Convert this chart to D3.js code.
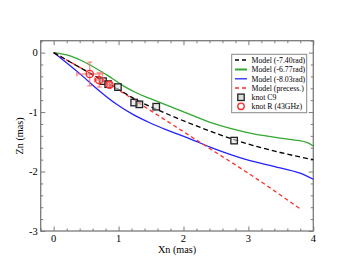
<!DOCTYPE html>
<html><head><meta charset="utf-8">
<script src="https://cdn.jsdelivr.net/npm/d3@7"></script>
<style>html,body{margin:0;padding:0;background:#fff;}svg{display:block;}</style>
</head><body>
<svg id="chart" width="353" height="273"></svg>
<script>
// ---- data ----
const xTicks = [0, 1, 2, 3, 4];
const yTicks = [0, -1, -2, -3];
const greenX = [0, 0.2, 0.45, 0.81, 1.12, 1.28, 1.48, 1.8, 2.1, 2.46, 2.97, 3.49, 3.9, 4.0];
const greenY = [0, -0.04, -0.145, -0.37, -0.59, -0.68, -0.77, -0.91, -1.04, -1.19, -1.34, -1.44, -1.51, -1.57];
const blueX = [0, 0.45, 0.71, 0.97, 1.22, 1.48, 1.79, 2.1, 2.46, 2.97, 3.49, 3.87, 4.0];
const blueY = [0, -0.40, -0.65, -0.87, -1.04, -1.18, -1.32, -1.45, -1.61, -1.80, -1.94, -2.06, -2.13];
const blackX = [0, 0.5, 1.0, 1.3, 1.64, 1.94, 2.46, 2.77, 3.2, 3.49, 4.0];
const blackY = [0, -0.31, -0.62, -0.81, -0.98, -1.12, -1.34, -1.46, -1.60, -1.68, -1.80];
const redX = [0, 0.5, 1.0, 1.5, 2.0, 2.5, 3.0, 3.5, 3.8];
const redY = [0, -0.31, -0.63, -0.98, -1.33, -1.68, -2.03, -2.40, -2.63];
const c9X = [0.76, 0.84, 0.99, 1.24, 1.32, 1.58, 2.78];
const c9Y = [-0.48, -0.53, -0.58, -0.84, -0.87, -0.91, -1.48];
const rX = [0.556, 0.70, 0.86];
const rY = [-0.36, -0.46, -0.54];
const rXerr = [0.2, 0.07, 0.03];
const rYerr = [0.2, 0.12, 0.04];
const legendLabels = ["Model (-7.40rad)", "Model (-6.77rad)", "Model (-8.03rad)", "Model (precess.)", "knot C9", "knot R (43GHz)"];

// ---- chart ----
const svg = d3.select("#chart");
const L = 40.7, R = 313.3, T = 40.7, B = 231;
const x = d3.scaleLinear().domain([-0.2, 4]).range([L, R]);
const y = d3.scaleLinear().domain([-3, 0.2]).range([B, T]);
const axisCol = "#7a7a7a";
const font = "Liberation Serif, Times New Roman, serif";

// frame
svg.append("rect").attr("x", L).attr("y", T).attr("width", R - L).attr("height", B - T)
  .attr("fill", "none").attr("stroke", axisCol).attr("stroke-width", 1.3);

const xMinor = d3.range(-0.2, 4.0001, 0.2).map(v => +v.toFixed(2));
const yMinor = d3.range(-3, 0.2001, 0.2).map(v => +v.toFixed(2));
const isMajor = v => Math.abs(v - Math.round(v)) < 1e-6;

function addAxis(axis, transform) {
  const g = svg.append("g").attr("transform", transform).call(axis);
  g.select(".domain").remove();
  g.selectAll("line").attr("stroke", axisCol).attr("stroke-width", 1);
  return g;
}
const gb = addAxis(d3.axisTop(x).tickValues(xMinor).tickSize(0).tickFormat(""), `translate(0,${B})`);
gb.selectAll(".tick line").attr("y2", d => isMajor(d) ? -4.5 : -2.5);
const gt = addAxis(d3.axisBottom(x).tickValues(xMinor).tickSize(0).tickFormat(""), `translate(0,${T})`);
gt.selectAll(".tick line").attr("y2", d => isMajor(d) ? 4.5 : 2.5);
const gl = addAxis(d3.axisRight(y).tickValues(yMinor).tickSize(0).tickFormat(""), `translate(${L},0)`);
gl.selectAll(".tick line").attr("x2", d => isMajor(d) ? 4.5 : 2.5);
const gr = addAxis(d3.axisLeft(y).tickValues(yMinor).tickSize(0).tickFormat(""), `translate(${R},0)`);
gr.selectAll(".tick line").attr("x2", d => isMajor(d) ? -4.5 : -2.5);

// tick labels
svg.append("g").selectAll("text").data(xTicks).join("text")
  .attr("x", d => x(d)).attr("y", B + 10.6).attr("text-anchor", "middle")
  .attr("font-family", font).attr("font-size", 10.5).attr("fill", "#000").text(d => d);
svg.append("g").selectAll("text").data(yTicks).join("text")
  .attr("x", L - 3).attr("y", d => y(d) + 3.6).attr("text-anchor", "end")
  .attr("font-family", font).attr("font-size", 10.5).attr("fill", "#000").text(d => d);

// axis titles
svg.append("text").attr("x", (L + R) / 2).attr("y", 252.5).attr("text-anchor", "middle")
  .attr("font-family", font).attr("font-size", 10.2).text("Xn (mas)");
svg.append("text").attr("transform", `translate(23,${(T + B) / 2}) rotate(-90)`).attr("text-anchor", "middle")
  .attr("font-family", font).attr("font-size", 10.2).text("Zn (mas)");

// curves
const line = d3.line().x(d => x(d[0])).y(d => y(d[1])).curve(d3.curveMonotoneX);
const series = [
  {xs: blueX, ys: blueY, col: "#2222ff", dash: null},
  {xs: greenX, ys: greenY, col: "#33a833", dash: null},
  {xs: redX, ys: redY, col: "#ff2a2a", dash: "4,3"},
  {xs: blackX, ys: blackY, col: "#000", dash: "5,3"}
];
series.forEach(s => {
  svg.append("path").datum(d3.zip(s.xs, s.ys)).attr("d", line)
    .attr("fill", "none").attr("stroke", s.col).attr("stroke-width", 1.3)
    .attr("stroke-dasharray", s.dash);
});

// knot C9 squares
const sq = 6.5;
svg.append("g").selectAll("rect").data(d3.zip(c9X, c9Y)).join("rect")
  .attr("x", d => x(d[0]) - sq / 2).attr("y", d => y(d[1]) - sq / 2)
  .attr("width", sq).attr("height", sq)
  .attr("fill", "#ddd").attr("fill-opacity", 0.6).attr("stroke", "#222").attr("stroke-width", 1.3);

// knot R error bars and circles
const eCol = "#ff6a6a";
const rData = d3.zip(rX, rY, rXerr, rYerr);
const eg = svg.append("g").attr("stroke", eCol).attr("stroke-width", 1);
rData.forEach(([cx, cy, ex, ey]) => {
  const cap = 2.5;
  eg.append("line").attr("x1", x(cx - ex)).attr("x2", x(cx + ex)).attr("y1", y(cy)).attr("y2", y(cy));
  eg.append("line").attr("x1", x(cx)).attr("x2", x(cx)).attr("y1", y(cy - ey)).attr("y2", y(cy + ey));
  [cx - ex, cx + ex].forEach(v => eg.append("line").attr("x1", x(v)).attr("x2", x(v)).attr("y1", y(cy) - cap).attr("y2", y(cy) + cap));
  [cy - ey, cy + ey].forEach(v => eg.append("line").attr("y1", y(v)).attr("y2", y(v)).attr("x1", x(cx) - cap).attr("x2", x(cx) + cap));
});
svg.append("g").selectAll("circle").data(rData).join("circle")
  .attr("cx", d => x(d[0])).attr("cy", d => y(d[1])).attr("r", 3.6)
  .attr("fill", "none").attr("stroke", "#ff2a2a").attr("stroke-width", 1.4);

// legend
const lg = svg.append("g");
lg.append("rect").attr("x", 231.7).attr("y", 54.3).attr("width", 75).attr("height", 58.4)
  .attr("fill", "#fff").attr("stroke", "#888").attr("stroke-width", 1);
const rowsY = [60, 69.5, 78.8, 88, 97.3, 106.3];
const legStyles = [
  {type: "line", col: "#000", dash: "4,3"},
  {type: "line", col: "#33a833", dash: null, w: 2},
  {type: "line", col: "#2222ff", dash: null},
  {type: "line", col: "#ff2a2a", dash: "4,3"},
  {type: "sq"},
  {type: "circ"}
];
legendLabels.forEach((lab, i) => {
  const st = legStyles[i], ry = rowsY[i];
  if (st.type === "line") {
    lg.append("line").attr("x1", 235).attr("x2", 247).attr("y1", ry).attr("y2", ry)
      .attr("stroke", st.col).attr("stroke-width", st.w || 1.3).attr("stroke-dasharray", st.dash);
  } else if (st.type === "sq") {
    lg.append("rect").attr("x", 241 - 3.2).attr("y", ry - 3.2).attr("width", 6.4).attr("height", 6.4)
      .attr("fill", "#ddd").attr("stroke", "#222").attr("stroke-width", 1.3);
  } else {
    lg.append("circle").attr("cx", 241).attr("cy", ry).attr("r", 3.2)
      .attr("fill", "none").attr("stroke", "#ff2a2a").attr("stroke-width", 1.4);
  }
  lg.append("text").attr("x", 251.5).attr("y", ry + 2.8).attr("font-family", font)
    .attr("font-size", 7.8).attr("fill", "#000").text(lab);
});
</script>
</body></html>
